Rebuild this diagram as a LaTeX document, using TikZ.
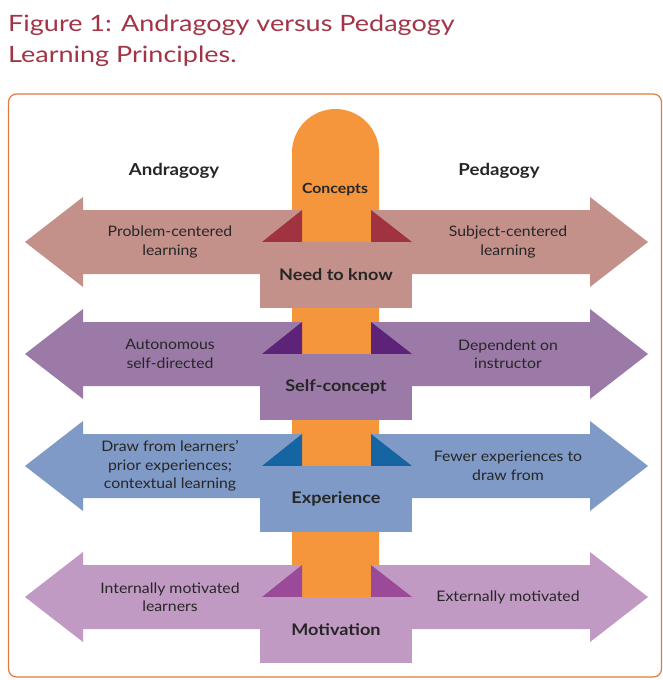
\documentclass[tikz,border=0pt]{standalone}
\usepackage{fontspec}
\setmainfont{Lato}[FakeStretch=1.09]
\newfontfamily\titlefont{Lato}[FakeStretch=1.2]
\newfontfamily\labelfont{Lato}[FakeStretch=1.13]
\definecolor{titlered}{HTML}{A23446}
\definecolor{framecol}{HTML}{E27A3F}
\definecolor{pillar}{HTML}{F6963C}
\definecolor{txt}{HTML}{262626}
\definecolor{rowAm}{HTML}{C4908A}\definecolor{rowAt}{HTML}{A1323F}
\definecolor{rowBm}{HTML}{9B7AA8}\definecolor{rowBt}{HTML}{5C2379}
\definecolor{rowCm}{HTML}{7F9AC6}\definecolor{rowCt}{HTML}{1565A3}
\definecolor{rowDm}{HTML}{C19AC3}\definecolor{rowDt}{HTML}{9A4A98}
\tikzset{
  sidetext/.style={text=txt,align=center,font=\fontsize{14.5}{18.5}\selectfont,inner sep=0pt},
  boxtext/.style={text=txt,font=\labelfont\fontsize{16}{19}\selectfont\bfseries,inner sep=0pt},
  headtext/.style={text=txt,font=\labelfont\fontsize{16.5}{19}\selectfont\bfseries,inner sep=0pt},
  titletext/.style={anchor=base west,inner sep=0pt,text=titlered,font=\titlefont\fontsize{22.5}{27}\selectfont},
}
\newcommand{\rowdraw}[7]{%
  % #1 tip y, #2 main colour, #3 triangle colour, #4 box label, #5 left text, #6 right text, #7 name
  \fill[#2] (25,#1) -- (83,#1-45) -- (83,#1-32) -- (590,#1-32) -- (590,#1-45)
     -- (648,#1) -- (590,#1+45) -- (590,#1+32) -- (83,#1+32) -- (83,#1+45) -- cycle;
  \fill[pillar] (302,#1-32) rectangle (371,#1);
  \fill[#3] (262,#1) -- (302,#1) -- (302,#1-32) -- cycle;
  \fill[#3] (371,#1-32) -- (371,#1) -- (412,#1) -- cycle;
  \fill[#2] (260,#1) rectangle (412,#1+66);
  \node[boxtext] (#7box) at (336,#1+33) {#4};
  \node[sidetext] (#7left) at (170,#1) {#5};
  \node[sidetext] (#7right) at (508,#1) {#6};
}
\begin{document}
\begin{tikzpicture}[x=1pt,y=-1pt]
\useasboundingbox (0,0) rectangle (663,680);
\node[titletext] (title1) at (8,31) {Figure 1: Andragogy versus Pedagogy};
\node[titletext] (title2) at (8,62) {Learning Principles.};
\draw[framecol,line width=1.2pt,rounded corners=8pt] (8.5,94) rectangle (661.5,677);
\fill[pillar] (292,640) -- (292,152.5) arc[start angle=180,end angle=360,radius=43.5] -- (379,640) -- cycle;
\node[headtext] (andra) at (174,171) {Andragogy};
\node[headtext] (peda) at (499,171) {Pedagogy};
\node[text=txt,font=\labelfont\fontsize{14}{17}\selectfont\bfseries,inner sep=0pt] (concepts) at (335,190) {Concepts};
\rowdraw{242}{rowAm}{rowAt}{Need to know}{Problem-centered\\learning}{Subject-centered\\learning}{a}
\rowdraw{354}{rowBm}{rowBt}{Self-concept}{Autonomous\\self-directed}{Dependent on\\instructor}{b}
\rowdraw{466}{rowCm}{rowCt}{Experience}{Draw from learners’\\prior experiences;\\contextual learning}{Fewer experiences to\\draw from}{c}
\rowdraw{597}{rowDm}{rowDt}{Motivation}{Internally motivated\\learners}{Externally motivated}{d}
\end{tikzpicture}
\end{document}
